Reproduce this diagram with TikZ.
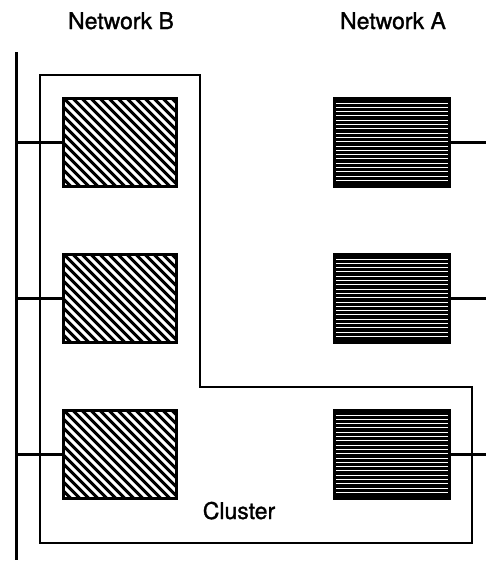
\documentclass[tikz,border=0pt]{standalone}
\usepackage{fontspec}
\setmainfont{TeX Gyre Heros}
\newfontface\labfont[FakeBold=1.2]{TeX Gyre Heros}
\begin{document}
\begin{tikzpicture}[x=1pt,y=-1pt,
  hostB/.style={draw=black, line width=3pt, minimum width=113pt, minimum height=88pt,
    inner sep=0pt, fill=white,
    path picture={
      \foreach \i in {-117,-108,...,130}{
        \draw[line width=3pt,black] ([xshift=\i pt]path picture bounding box.north west) -- ++(110,110);
      }
    }},
  hostA/.style={draw=black, line width=3pt, minimum width=115pt, minimum height=88pt,
    inner sep=0pt, fill=black,
    path picture={
      \foreach \j in {5,9.3,...,86}{
        \draw[line width=1pt,white] ([yshift=-\j pt]path picture bounding box.north west) -- ++(115,0);
      }
    }},
  wire/.style={line width=3pt},
  clusterline/.style={line width=1.6pt},
  lab/.style={font=\labfont\fontsize{23}{26}\selectfont, anchor=base}]
\useasboundingbox (0,0) rectangle (486,565);
% labels
\node[lab] (labB) at (121,29) {Network B};
\node[lab] (labA) at (393,29) {Network A};
\node[lab] (labC) at (239,519) {Cluster};
% cluster outline
\draw[clusterline] (40,75) -- (200,75) -- (200,387) -- (472,387) -- (472,543) -- (40,543) -- cycle;
% bus
\coordinate (busT) at (16,52);
\coordinate (busB) at (16,560);
\draw[wire] (busT) -- (busB);
% hosts
\node[hostB] (b1) at (120,142) {};
\node[hostB] (b2) at (120,298) {};
\node[hostB] (b3) at (120,454) {};
\node[hostA] (a1) at (392,142) {};
\node[hostA] (a2) at (392,298) {};
\node[hostA] (a3) at (392,454) {};
% right free ends
\coordinate (e1) at (486,142);
\coordinate (e2) at (486,298);
\coordinate (e3) at (486,454);
% connectors
\foreach \n in {1,2,3}{
  \draw[wire] (busT |- b\n.west) -- (b\n.west);
  \draw[wire] (a\n.east) -- (e\n);
}
\end{tikzpicture}
\end{document}
